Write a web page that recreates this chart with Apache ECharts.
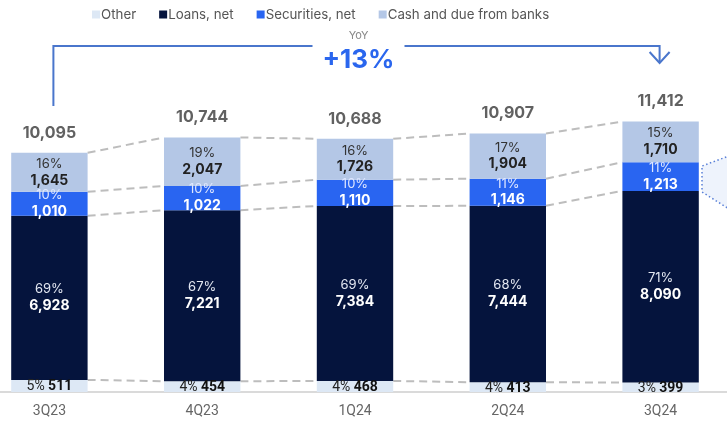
<!DOCTYPE html>
<html>
<head>
<meta charset="utf-8">
<script src="https://cdn.jsdelivr.net/npm/echarts@6/dist/echarts.min.js"></script>
<style>
  html, body { margin: 0; padding: 0; background: #fff; }
  #chart { width: 727px; height: 425px; }
</style>
</head>
<body>
<div id="chart"></div>
<script>
// data
const categories = ["3Q23", "4Q23", "1Q24", "2Q24", "3Q24"];
const other = [511, 454, 468, 413, 399];
const loans = [6928, 7221, 7384, 7444, 8090];
const securities = [1010, 1022, 1110, 1146, 1213];
const cash = [1645, 2047, 1726, 1904, 1710];
const totals = [10095, 10744, 10688, 10907, 11412];
const otherPct = [5, 4, 4, 4, 3];
const loansPct = [69, 67, 69, 68, 71];
const securitiesPct = [10, 10, 10, 11, 11];
const cashPct = [16, 19, 16, 17, 15];
const yoyText = "+13%";

const colors = {
  other: "#dde8f5",
  loans: "#05143d",
  securities: "#2965f1",
  cash: "#b4c7e6",
};

const fmt = (v) => v.toLocaleString("en-US");
const font = "Inter, 'Noto Sans', sans-serif";

// cumulative boundaries per bar (top of each segment)
const cum = categories.map((_, i) => {
  const a = other[i];
  const b = a + loans[i];
  const c = b + securities[i];
  const d = c + cash[i];
  return [a, b, c, d];
});

function twoLine(pcts, pctColor, valColor) {
  return {
    show: true,
    position: "inside",
    formatter: (p) => `{p|${pcts[p.dataIndex]}%}\n{v|${fmt(p.value)}}`,
    rich: {
      p: { fontFamily: font, fontSize: 13, color: pctColor, lineHeight: 16 },
      v: { fontFamily: font, fontSize: 14, fontWeight: "bold", color: valColor, lineHeight: 17 },
    },
  };
}

const chart = echarts.init(document.getElementById("chart"));

chart.setOption({
  animation: false,
  textStyle: { fontFamily: font },
  legend: {
    left: 87,
    top: 3,
    itemWidth: 8,
    itemHeight: 8,
    itemGap: 23,
    icon: "rect",
    textStyle: { fontFamily: font, fontSize: 13.3, color: "#555", padding: [0, 0, 0, -4] },
    data: ["Other", "Loans, net", "Securities, net", "Cash and due from banks"],
  },
  grid: { left: -27, right: -10, top: 84, bottom: 33, outerBoundsMode: "none", containLabel: false },
  xAxis: {
    type: "category",
    data: categories,
    axisTick: { show: false },
    axisLine: { lineStyle: { color: "#dadada", width: 2 } },
    axisLabel: { fontFamily: "Roboto, sans-serif", fontSize: 14, color: "#666", margin: 12 },
  },
  yAxis: { type: "value", min: 0, max: 13000, show: false, splitLine: { show: false } },
  series: [
    {
      type: "custom",
      name: "connectors",
      z: 1,
      silent: true,
      data: categories.map((_, i) => [i, 0]),
      encode: { x: 0, y: 1 },
      renderItem: (params, api) => {
        const i = api.value(0);
        if (i >= categories.length - 1) return;
        const half = api.size([1, 0])[0] * 0.25;
        const children = cum[i].map((v, k) => {
          const p1 = api.coord([i, v]);
          const p2 = api.coord([i + 1, cum[i + 1][k]]);
          return {
            type: "line",
            shape: { x1: p1[0] + half, y1: p1[1], x2: p2[0] - half, y2: p2[1] },
            style: { stroke: "#bdbdbd", lineWidth: 2, lineDash: [8, 5] },
          };
        });
        return { type: "group", children };
      },
    },
    {
      name: "Other",
      type: "bar",
      stack: "a",
      barWidth: "50%",
      z: 2,
      itemStyle: { color: colors.other },
      data: other,
      label: {
        show: true,
        position: "inside",
        offset: [0, 1],
        formatter: (p) => `{p|${otherPct[p.dataIndex]}%} {v|${fmt(p.value)}}`,
        rich: {
          p: { fontFamily: "Roboto, sans-serif", fontSize: 14, color: "#222" },
          v: { fontFamily: "Roboto, sans-serif", fontSize: 14, fontWeight: "bold", color: "#111" },
        },
      },
    },
    {
      name: "Loans, net",
      type: "bar",
      stack: "a",
      z: 2,
      itemStyle: { color: colors.loans },
      data: loans,
      label: twoLine(loansPct, "#e4e8f2", "#ffffff"),
    },
    {
      name: "Securities, net",
      type: "bar",
      stack: "a",
      z: 2,
      itemStyle: { color: colors.securities },
      data: securities,
      label: twoLine(securitiesPct, "#dfe7ff", "#ffffff"),
    },
    {
      name: "Cash and due from banks",
      type: "bar",
      stack: "a",
      z: 2,
      itemStyle: { color: colors.cash },
      data: cash,
      label: twoLine(cashPct, "#333", "#222"),
    },
    {
      name: "total",
      type: "scatter",
      symbolSize: 0,
      z: 3,
      data: totals,
      label: {
        show: true,
        position: "top",
        distance: 12,
        formatter: (p) => fmt(p.value),
        fontFamily: font,
        fontSize: 16,
        fontWeight: "bold",
        color: "#3a3a3a",
      },
    },
  ],
});

// YoY bracket placed over the first and last bars
const xFirst = chart.convertToPixel({ xAxisIndex: 0 }, categories[0]) + 4;
const xLast = chart.convertToPixel({ xAxisIndex: 0 }, categories[categories.length - 1]) - 1;
const mid = (xFirst + xLast) / 2 + 2;
const lineY = 46;
const bracketColor = "#4a76cc";

chart.setOption({
  graphic: [
    {
      type: "polyline",
      shape: { points: [[xFirst, 106], [xFirst, lineY], [mid - 46, lineY]] },
      style: { stroke: bracketColor, lineWidth: 2, fill: null },
    },
    {
      type: "polyline",
      shape: { points: [[mid + 46, lineY], [xLast, lineY], [xLast, 63]] },
      style: { stroke: bracketColor, lineWidth: 2, fill: null },
    },
    {
      type: "polyline",
      shape: { points: [[xLast - 10, 52], [xLast, 63], [xLast + 10, 52]] },
      style: { stroke: bracketColor, lineWidth: 2, fill: null },
    },
    {
      type: "text",
      x: mid,
      y: 36,
      style: { text: "YoY", fontFamily: font, fontSize: 11, fill: "#888", align: "center", verticalAlign: "middle" },
    },
    {
      type: "text",
      x: mid,
      y: 60,
      style: { text: yoyText, fontFamily: font, fontSize: 26, fontWeight: "bold", fill: "#2a66ee", align: "center", verticalAlign: "middle" },
    },
    {
      type: "polygon",
      shape: { points: [[745, 150], [702, 166], [702, 192], [745, 219]] },
      style: { fill: "#eef3fc", stroke: "#5a80d8", lineWidth: 1.5, lineDash: [1.5, 2.5] },
    },
  ],
});
</script>
</body>
</html>
